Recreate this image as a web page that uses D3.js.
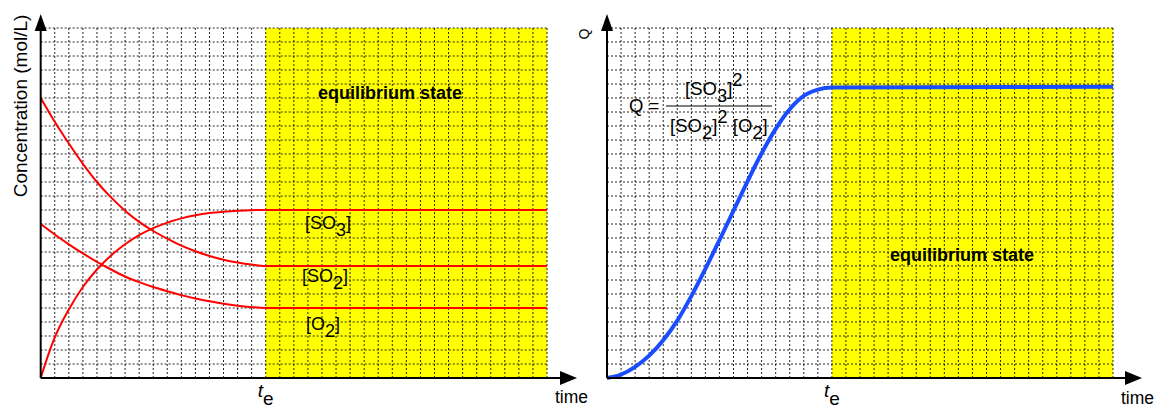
<!DOCTYPE html>
<html>
<head>
<meta charset="utf-8">
<script src="https://cdn.jsdelivr.net/npm/d3@7"></script>
<style>
  body { margin: 0; background: #fff; }
  text { font-family: "Liberation Sans", Arial, sans-serif; fill: #000; }
</style>
</head>
<body>
<div id="chart"></div>
<script>
// DATA ---------------------------------------------------------------
// time in grid cells, concentrations / Q in grid cells
const timeSteps = [0, 0.5, 1, 2, 3, 4, 5, 6, 7, 8, 9, 10, 11, 12, 13, 14, 15, 16, 36];
const so2 = [20, 19.15, 18.3, 16.75, 15.3, 14.0, 12.9, 11.95, 11.15, 10.5, 9.95, 9.45, 9.05, 8.72, 8.45, 8.25, 8.1, 8.0, 8.0];
const o2  = [11, 10.62, 10.25, 9.55, 8.9, 8.3, 7.75, 7.25, 6.85, 6.5, 6.2, 5.92, 5.68, 5.48, 5.3, 5.16, 5.06, 5.0, 5.0];
const so3 = [0, 1.55, 2.9, 4.9, 6.5, 7.75, 8.75, 9.55, 10.2, 10.7, 11.1, 11.4, 11.62, 11.78, 11.88, 11.95, 11.99, 12.0, 12.0];

const qTime = [0, 1, 2, 3, 4, 5, 6, 7, 8, 9, 10, 11, 12, 13, 14, 15, 16, 36];
const qValues = [0, 0.25, 0.8, 1.6, 2.7, 4.1, 5.85, 7.8, 9.85, 11.95, 14.05, 16.05, 17.8, 19.2, 20.15, 20.6, 20.75, 20.8];

const tEquilibrium = 16;
const xCells = 36;
const yCells = 25;

// CHART INIT ---------------------------------------------------------
const svg = d3.select('#chart')
  .append('svg')
  .attr('width', 1157)
  .attr('height', 408);

function panel(x0, x1) {
  const g = svg.append('g');
  const xScale = d3.scaleLinear().domain([0, xCells]).range([x0, x1]);
  const yScale = d3.scaleLinear().domain([0, yCells]).range([378, 28]);

  // yellow equilibrium region
  g.append('rect')
    .attr('x', xScale(tEquilibrium))
    .attr('y', yScale(yCells))
    .attr('width', xScale(xCells) - xScale(tEquilibrium))
    .attr('height', yScale(0) - yScale(yCells))
    .attr('fill', '#ffff00');

  // dotted grid
  g.selectAll('.vgrid')
    .data(d3.range(1, xCells + 1))
    .enter().append('line')
    .attr('class', 'vgrid')
    .attr('x1', d => xScale(d)).attr('x2', d => xScale(d))
    .attr('y1', yScale(0)).attr('y2', yScale(yCells));

  g.selectAll('.hgrid')
    .data(d3.range(1, yCells + 1))
    .enter().append('line')
    .attr('class', 'hgrid')
    .attr('x1', xScale(0)).attr('x2', xScale(xCells))
    .attr('y1', d => yScale(d)).attr('y2', d => yScale(d));

  g.selectAll('.vgrid, .hgrid')
    .attr('stroke', '#000')
    .attr('stroke-opacity', 0.85)
    .attr('stroke-width', 1)
    .attr('stroke-dasharray', '2,2');

  return { g, xScale, yScale };
}

function axes(p, xEnd, yTop) {
  const ox = p.xScale(0), oy = p.yScale(0);
  p.g.append('line')
    .attr('x1', ox).attr('y1', oy).attr('x2', xEnd - 14).attr('y2', oy)
    .attr('stroke', '#000').attr('stroke-width', 2);
  p.g.append('line')
    .attr('x1', ox).attr('y1', oy).attr('x2', ox).attr('y2', yTop + 14)
    .attr('stroke', '#000').attr('stroke-width', 2);
  // arrow heads
  p.g.append('path')
    .attr('d', `M${xEnd},${oy} L${xEnd - 17},${oy - 7} L${xEnd - 17},${oy + 7} Z`)
    .attr('fill', '#000');
  p.g.append('path')
    .attr('d', `M${ox},${yTop} L${ox - 6},${yTop + 17} L${ox + 6},${yTop + 17} Z`)
    .attr('fill', '#000');
}

// helper for chemistry labels: parts = [[text, shift, size]]
function chemLabel(g, x, y, parts, size) {
  const t = g.append('text').attr('x', x).attr('y', y).attr('font-size', size);
  let cur = 0;
  parts.forEach(([txt, shift, s]) => {
    t.append('tspan')
      .attr('dy', shift - cur)
      .attr('font-size', s || size)
      .text(txt);
    cur = shift;
  });
  return t;
}

// LEFT CHART ---------------------------------------------------------
const left = panel(40.7, 547);

const line = d3.line()
  .x((d, i) => left.xScale(timeSteps[i]))
  .y(d => left.yScale(d))
  .curve(d3.curveMonotoneX);

[so2, o2, so3].forEach(series => {
  left.g.append('path')
    .datum(series)
    .attr('d', line)
    .attr('fill', 'none')
    .attr('stroke', '#ff0000')
    .attr('stroke-width', 2);
});

axes(left, 577, 14);

left.g.append('text')
  .attr('transform', 'translate(27,106) rotate(-90)')
  .attr('text-anchor', 'middle')
  .attr('font-size', 19)
  .text('Concentration (mol/L)');

left.g.append('text')
  .attr('x', 390).attr('y', 99)
  .attr('text-anchor', 'middle')
  .attr('font-size', 18)
  .attr('font-weight', 'bold')
  .text('equilibrium state');

chemLabel(left.g, 305, 229, [['[SO', 0], ['3', 7], [']', 0]], 18);
chemLabel(left.g, 302, 282, [['[SO', 0], ['2', 7], [']', 0]], 18);
chemLabel(left.g, 306, 330, [['[O', 0], ['2', 7], [']', 0]], 18);

const teLeft = left.g.append('text')
  .attr('x', left.xScale(tEquilibrium) - 8).attr('y', 397)
  .attr('font-size', 19);
teLeft.append('tspan').attr('font-style', 'italic').text('t');
teLeft.append('tspan').attr('dy', 8).text('e');

left.g.append('text')
  .attr('x', 555).attr('y', 403)
  .attr('font-size', 17.5)
  .text('time');

// RIGHT CHART --------------------------------------------------------
const right = panel(607, 1113);

const qLine = d3.line()
  .x((d, i) => right.xScale(qTime[i]))
  .y(d => right.yScale(d))
  .curve(d3.curveMonotoneX);

right.g.append('path')
  .datum(qValues)
  .attr('d', qLine)
  .attr('fill', 'none')
  .attr('stroke', '#1a4dff')
  .attr('stroke-width', 4);

axes(right, 1142, 14);

right.g.append('text')
  .attr('transform', 'translate(589,34) rotate(-90)')
  .attr('text-anchor', 'middle')
  .attr('font-size', 14)
  .text('Q');

right.g.append('text')
  .attr('x', 962).attr('y', 261)
  .attr('text-anchor', 'middle')
  .attr('font-size', 18)
  .attr('font-weight', 'bold')
  .text('equilibrium state');

// formula Q = [SO3]^2 / ([SO2]^2 [O2])
right.g.append('text')
  .attr('x', 629).attr('y', 112)
  .attr('font-size', 18.5)
  .text('Q =');
right.g.append('line')
  .attr('x1', 666).attr('x2', 772)
  .attr('y1', 106).attr('y2', 106)
  .attr('stroke', '#000').attr('stroke-width', 1);
chemLabel(right.g, 685, 95, [['[SO', 0], ['3', 7], [']', 0], ['2', -9]], 18.5);
chemLabel(right.g, 670, 132, [['[SO', 0], ['2', 7], [']', 0], ['2', -9], [' [O', 0], ['2', 7], [']', 0]], 18.5);

const teRight = right.g.append('text')
  .attr('x', right.xScale(tEquilibrium) - 8).attr('y', 397)
  .attr('font-size', 19);
teRight.append('tspan').attr('font-style', 'italic').text('t');
teRight.append('tspan').attr('dy', 8).text('e');

right.g.append('text')
  .attr('x', 1121).attr('y', 404)
  .attr('font-size', 17.5)
  .text('time');
</script>
</body>
</html>
